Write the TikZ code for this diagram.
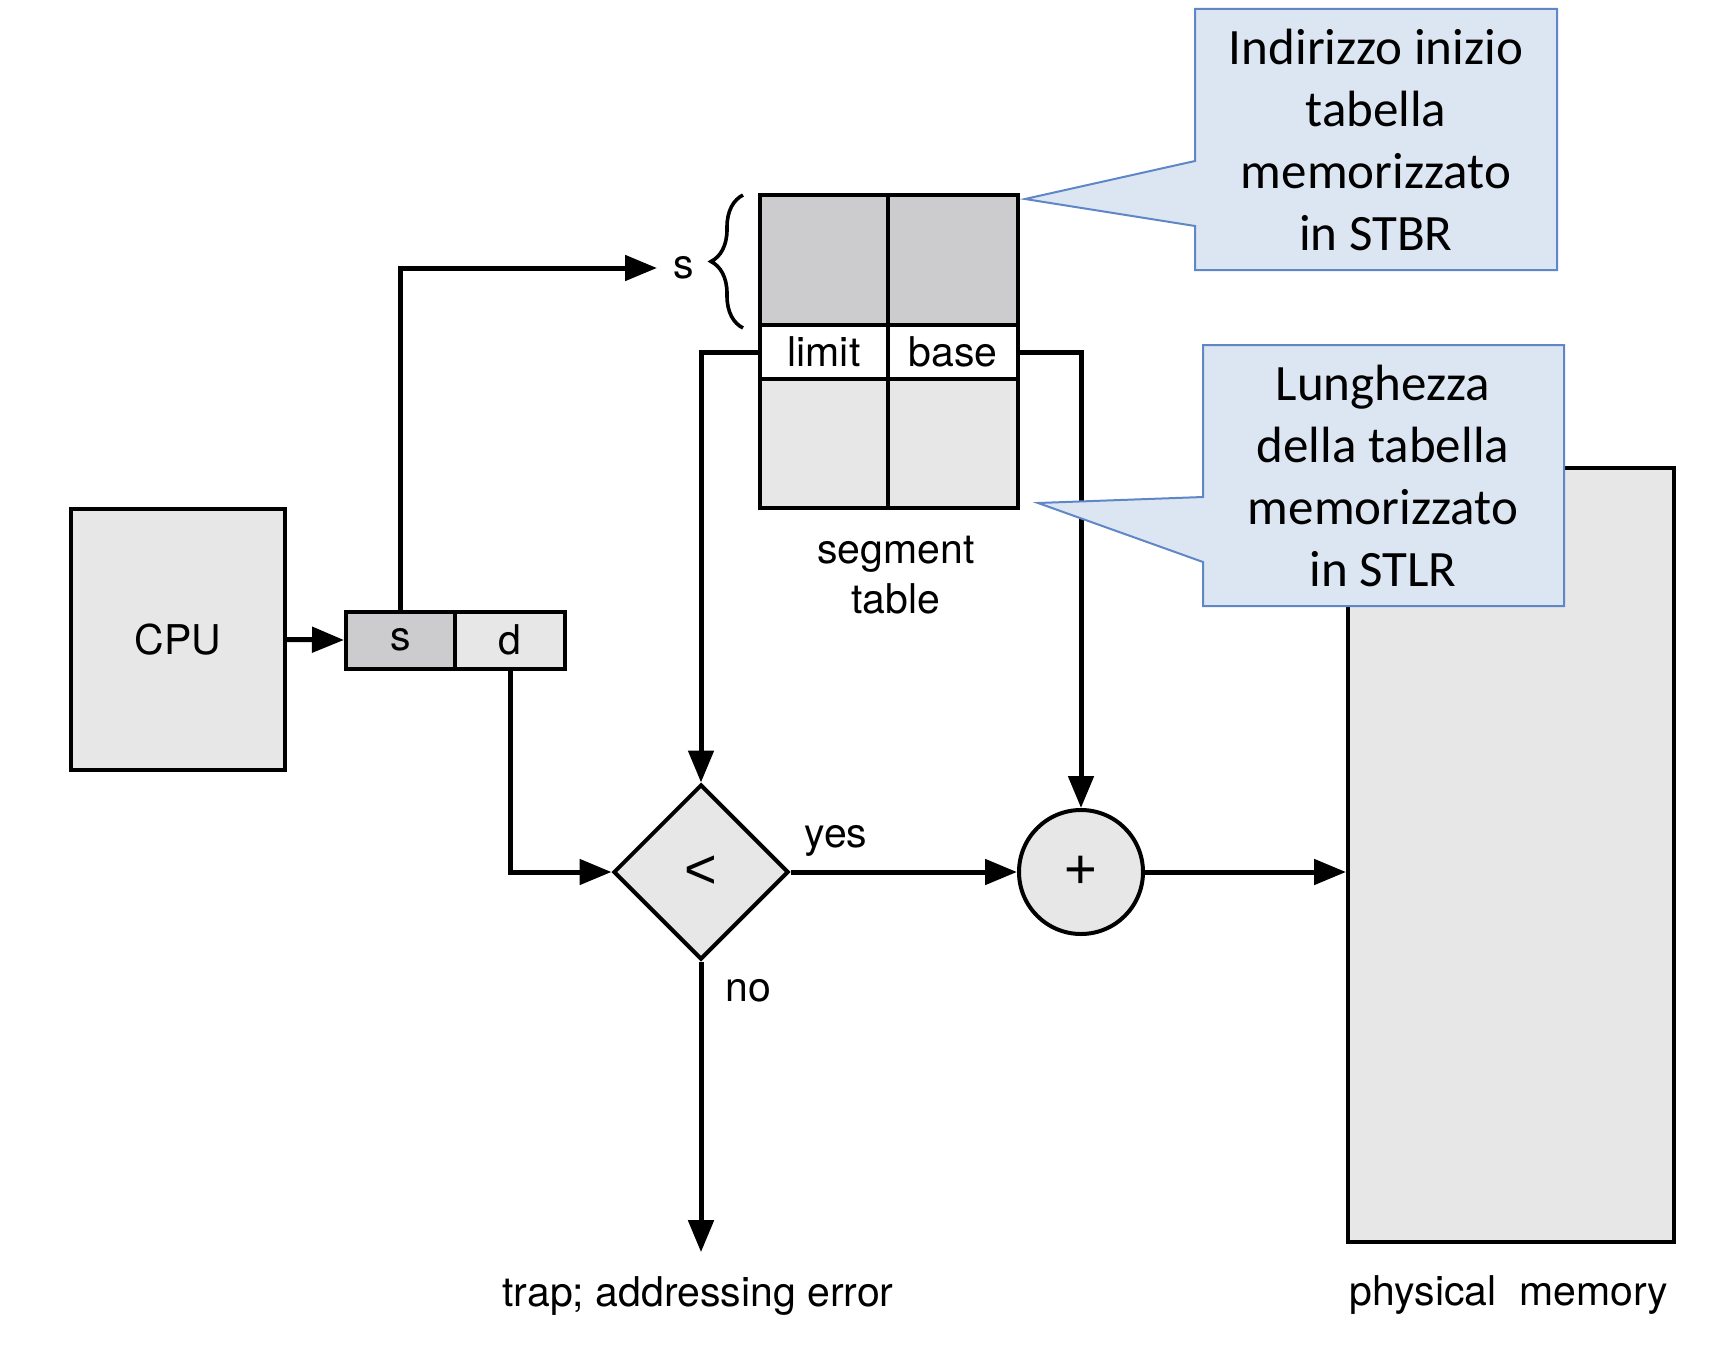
\documentclass[tikz,border=0pt]{standalone}
\usepackage{fontspec}
\setmainfont{TeX Gyre Heros}
\newfontfamily\calib{Carlito}
\newfontfamily\symf{Liberation Sans}
\usetikzlibrary{arrows.meta,shapes.geometric,decorations.pathreplacing}
\definecolor{dgray}{RGB}{204,204,206}
\definecolor{lgray}{RGB}{231,231,231}
\definecolor{cfill}{RGB}{220,230,242}
\definecolor{cline}{RGB}{95,135,200}
\begin{document}
\begin{tikzpicture}[x=0.5pt,y=-0.5pt,
  lbl/.style={font=\fontsize{20.5}{25}\selectfont, inner sep=0pt},
  sym/.style={font=\symf\fontsize{28}{28}\selectfont, inner sep=0pt},
  box/.style={draw, line width=2pt, inner sep=0pt, font=\fontsize{20.5}{25}\selectfont},
  arr/.style={line width=2.5pt, -{Triangle[length=16pt,width=12.5pt]}},
  call/.style={draw=cline, fill=cfill, line width=1pt, line join=miter},
  ctext/.style={font=\calib\fontsize{25.5}{31}\selectfont, align=center, inner sep=0pt}]
\useasboundingbox (0,0) rectangle (1718,1370);

% CPU and logical address
\node[box, fill=lgray, minimum width=107pt, minimum height=130.5pt] (cpu) at (178,639.5) {CPU};
\node[box, fill=dgray, minimum width=54.5pt, minimum height=28.5pt] (sbox) at (400.5,640) {s};
\node[box, fill=lgray, minimum width=55pt, minimum height=28.5pt] (dbox) at (510,640) {d};

% segment table
\node[box, fill=dgray, minimum width=64pt, minimum height=65pt] (t11) at (824,260) {};
\node[box, fill=dgray, minimum width=65pt, minimum height=65pt] (t12) at (953,260) {};
\node[box, fill=white, minimum width=64pt, minimum height=27pt] (lim) at (824,352) {limit};
\node[box, fill=white, minimum width=65pt, minimum height=27pt] (bas) at (953,352) {base};
\node[box, fill=lgray, minimum width=64pt, minimum height=64.5pt] (t31) at (824,443.5) {};
\node[box, fill=lgray, minimum width=65pt, minimum height=64.5pt] (t32) at (953,443.5) {};
\node[lbl, align=center] (segl) at (896,575) {segment\\table};

% brace and s label
\draw[line width=1.8pt, decorate, decoration={brace, amplitude=16pt}] (743,328) -- (743,195);
\node[lbl] (sl) at (684,268) {s};
\coordinate (stip) at (657,268);

% comparator and adder
\node[draw, line width=2pt, fill=lgray, diamond, aspect=1, minimum width=87.5pt, minimum height=87.5pt, inner sep=0pt, sym] (dia) at (701,872) {<};
\node[draw, line width=2pt, fill=lgray, circle, minimum size=62pt, inner sep=0pt, sym] (circ) at (1081,872) {+};

% physical memory
\node[box, fill=lgray, minimum width=163pt, minimum height=387pt] (mem) at (1511,855) {};
\node[lbl] (meml) at (1509,1295) {physical\ \ memory};
\node[lbl] (trap) at (698,1296) {trap; addressing error};
\node[lbl] (yes) at (836,841) {yes};
\node[lbl] (no) at (748,991) {no};

% connectors
\draw[arr] (cpu.east) -- (sbox.west);
\draw[arr] (sbox.north) |- (stip);
\draw[arr] (dbox.south) |- (dia.west);
\draw[arr] (lim.west) -| (dia.north);
\draw[arr] (bas.east) -| (circ.north);
\draw[arr] (dia.east) -- (circ.west);
\draw[arr] (circ.east) -- (circ.east -| mem.west);
\draw[arr, shorten >=12pt] (dia.south) -- (dia.south |- trap.north);

% callouts
\draw[call] (1195,9) -- (1557,9) -- (1557,270) -- (1195,270) -- (1195,226) -- (1025,199) -- (1195,161) -- cycle;
\node[ctext] (c1) at (1376,140) {Indirizzo inizio\\tabella\\memorizzato\\in STBR};
\draw[call] (1203,345) -- (1564,345) -- (1564,606) -- (1203,606) -- (1203,562) -- (1038,503) -- (1203,497) -- cycle;
\node[ctext] (c2) at (1383,476) {Lunghezza\\della tabella\\memorizzato\\in STLR};
\end{tikzpicture}
\end{document}
